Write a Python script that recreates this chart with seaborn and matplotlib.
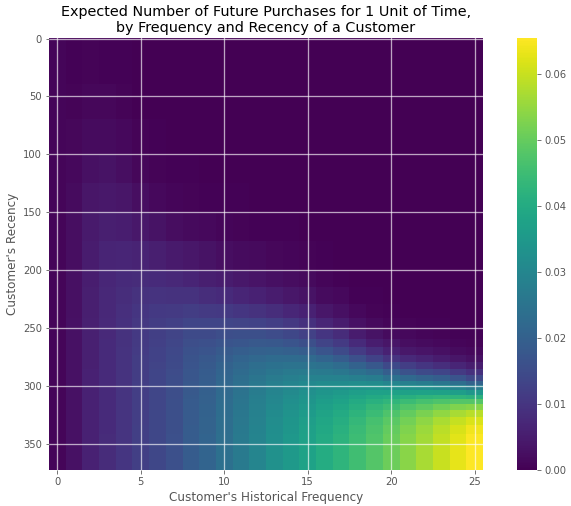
import numpy as np
import pandas as pd
import matplotlib
matplotlib.use("Agg")
import matplotlib.pyplot as plt
import seaborn as sns

# historical frequency (columns) and recency bins (rows)
frequency = list(range(26))
recency_edges = [0, 40, 70, 100, 125, 150, 175, 200, 215, 230, 242, 252, 260, 267,
                 274, 280, 286, 291, 296, 300, 304, 308, 312, 316, 321, 327, 334,
                 342, 352, 373]

# expected purchases in 1 unit of time (x 1000), one row per recency bin
purchases_x1000 = [
    [0.8, 0.4, 0.6, 0.5, 0.3, 0.1, 0.0, 0.0, 0.0, 0.0, 0.0, 0.0, 0.0, 0.0, 0.0, 0.0, 0.0, 0.0, 0.0, 0.0, 0.0, 0.0, 0.0, 0.0, 0.0, 0.0],
    [0.8, 0.7, 1.2, 1.1, 0.6, 0.2, 0.1, 0.1, 0.0, 0.0, 0.0, 0.0, 0.0, 0.0, 0.0, 0.0, 0.0, 0.0, 0.0, 0.0, 0.0, 0.0, 0.0, 0.0, 0.0, 0.0],
    [0.8, 1.1, 2.0, 2.0, 1.3, 0.6, 0.3, 0.2, 0.1, 0.1, 0.1, 0.0, 0.0, 0.0, 0.0, 0.0, 0.0, 0.0, 0.0, 0.0, 0.0, 0.0, 0.0, 0.0, 0.0, 0.0],
    [0.8, 1.5, 2.8, 3.2, 2.3, 1.2, 0.7, 0.4, 0.3, 0.2, 0.1, 0.1, 0.1, 0.0, 0.0, 0.0, 0.0, 0.0, 0.0, 0.0, 0.0, 0.0, 0.0, 0.0, 0.0, 0.0],
    [0.8, 1.9, 3.6, 4.3, 3.7, 2.3, 1.5, 1.0, 0.7, 0.5, 0.4, 0.3, 0.2, 0.1, 0.1, 0.1, 0.0, 0.0, 0.0, 0.0, 0.0, 0.0, 0.0, 0.0, 0.0, 0.0],
    [0.8, 2.3, 4.4, 5.5, 5.3, 4.1, 3.1, 2.2, 1.7, 1.3, 1.0, 0.7, 0.5, 0.4, 0.3, 0.2, 0.1, 0.0, 0.0, 0.0, 0.0, 0.0, 0.0, 0.0, 0.0, 0.0],
    [0.8, 2.5, 4.9, 6.4, 6.8, 6.3, 5.5, 4.5, 3.9, 3.1, 2.5, 2.0, 1.6, 1.2, 0.9, 0.6, 0.3, 0.1, 0.1, 0.0, 0.0, 0.0, 0.0, 0.0, 0.0, 0.0],
    [0.8, 2.7, 5.3, 6.9, 7.8, 8.1, 7.8, 7.2, 6.6, 5.6, 4.9, 4.1, 3.5, 2.7, 2.1, 1.6, 0.9, 0.5, 0.2, 0.1, 0.0, 0.0, 0.0, 0.0, 0.0, 0.0],
    [0.8, 2.8, 5.5, 7.2, 8.4, 9.2, 9.5, 9.3, 9.2, 8.3, 7.7, 6.8, 6.0, 5.0, 4.0, 3.2, 1.9, 1.3, 0.5, 0.3, 0.1, 0.0, 0.0, 0.0, 0.0, 0.0],
    [0.8, 2.8, 5.6, 7.4, 8.9, 10.1, 10.8, 11.1, 11.6, 11.1, 10.8, 10.2, 9.4, 8.3, 7.1, 5.9, 4.0, 2.8, 1.4, 0.7, 0.4, 0.2, 0.1, 0.1, 0.0, 0.0],
    [0.8, 2.9, 5.7, 7.5, 9.1, 10.6, 11.6, 12.3, 13.3, 13.3, 13.4, 13.2, 12.8, 11.8, 10.5, 9.1, 6.8, 5.1, 2.9, 1.7, 1.0, 0.6, 0.4, 0.3, 0.2, 0.1],
    [0.8, 2.9, 5.7, 7.6, 9.3, 10.9, 12.1, 13.2, 14.6, 14.8, 15.5, 15.7, 15.7, 15.0, 14.0, 12.6, 10.0, 8.0, 5.1, 3.3, 2.0, 1.3, 0.9, 0.7, 0.4, 0.3],
    [0.8, 2.9, 5.8, 7.7, 9.4, 11.2, 12.5, 13.7, 15.4, 16.0, 17.0, 17.6, 17.9, 17.7, 16.9, 15.7, 13.2, 11.1, 7.7, 5.3, 3.6, 2.4, 1.8, 1.3, 0.9, 0.6],
    [0.8, 2.9, 5.8, 7.7, 9.5, 11.3, 12.8, 14.2, 16.1, 16.9, 18.3, 19.3, 20.0, 20.2, 19.9, 19.0, 16.9, 14.7, 11.4, 8.5, 6.1, 4.3, 3.4, 2.6, 1.9, 1.3],
    [0.8, 2.9, 5.8, 7.8, 9.6, 11.5, 13.0, 14.5, 16.7, 17.7, 19.4, 20.8, 21.9, 22.6, 22.7, 22.3, 20.9, 18.9, 15.9, 12.9, 9.9, 7.6, 6.2, 5.0, 3.8, 2.8],
    [0.8, 2.9, 5.8, 7.8, 9.6, 11.6, 13.2, 14.8, 17.1, 18.3, 20.2, 21.9, 23.4, 24.5, 25.0, 25.0, 24.1, 22.8, 20.4, 17.7, 14.5, 11.8, 10.2, 8.5, 6.8, 5.2],
    [0.8, 3.0, 5.9, 7.8, 9.7, 11.7, 13.3, 15.0, 17.4, 18.8, 20.8, 22.7, 24.5, 25.8, 26.6, 27.0, 26.8, 25.9, 24.3, 22.6, 19.3, 16.5, 14.8, 13.4, 11.2, 9.0],
    [0.8, 3.0, 5.9, 7.8, 9.7, 11.7, 13.4, 15.1, 17.6, 19.1, 21.3, 23.4, 25.4, 27.0, 28.1, 29.0, 29.1, 28.8, 28.1, 27.2, 24.5, 22.2, 20.6, 19.3, 16.9, 14.3],
    [0.8, 3.0, 5.9, 7.8, 9.7, 11.8, 13.5, 15.3, 17.8, 19.4, 21.8, 24.0, 26.1, 28.0, 29.4, 30.5, 31.3, 31.4, 31.7, 31.2, 29.7, 28.2, 27.1, 25.6, 23.4, 20.6],
    [0.8, 3.0, 5.9, 7.9, 9.8, 11.8, 13.5, 15.4, 18.0, 19.6, 22.1, 24.4, 26.7, 28.7, 30.3, 31.6, 32.7, 33.4, 34.1, 34.3, 33.7, 33.0, 32.6, 31.5, 29.8, 27.4],
    [0.8, 3.0, 5.9, 7.9, 9.8, 11.9, 13.6, 15.4, 18.1, 19.8, 22.3, 24.8, 27.2, 29.4, 31.1, 32.6, 34.1, 35.0, 36.4, 37.2, 37.3, 37.5, 37.7, 37.3, 36.5, 34.5],
    [0.8, 3.0, 5.9, 7.9, 9.8, 11.9, 13.7, 15.5, 18.2, 20.0, 22.6, 25.1, 27.6, 29.9, 31.8, 33.5, 35.2, 36.4, 38.2, 39.5, 40.3, 41.3, 42.2, 42.7, 42.6, 41.7],
    [0.8, 3.0, 5.9, 7.9, 9.8, 11.9, 13.7, 15.6, 18.4, 20.1, 22.8, 25.4, 27.9, 30.4, 32.3, 34.2, 36.1, 37.6, 39.7, 41.5, 42.9, 44.6, 46.0, 47.2, 47.9, 47.9],
    [0.8, 3.0, 5.9, 7.9, 9.9, 12.0, 13.7, 15.6, 18.4, 20.2, 23.0, 25.7, 28.3, 30.9, 32.9, 34.9, 37.0, 38.8, 41.1, 43.2, 45.1, 47.3, 49.3, 51.1, 52.7, 53.6],
    [0.8, 3.0, 5.9, 7.9, 9.9, 12.0, 13.8, 15.7, 18.5, 20.4, 23.2, 25.9, 28.6, 31.3, 33.5, 35.6, 37.9, 39.8, 42.4, 44.7, 47.1, 49.7, 52.2, 54.5, 56.8, 58.4],
    [0.8, 3.0, 6.0, 7.9, 9.9, 12.0, 13.8, 15.8, 18.6, 20.5, 23.3, 26.2, 28.9, 31.7, 34.0, 36.3, 38.6, 40.8, 43.5, 46.0, 48.7, 51.6, 54.3, 57.0, 59.7, 61.8],
    [0.8, 3.0, 6.0, 7.9, 9.9, 12.1, 13.9, 15.8, 18.7, 20.6, 23.5, 26.4, 29.2, 32.1, 34.4, 36.8, 39.2, 41.5, 44.3, 46.8, 49.7, 52.8, 55.6, 58.6, 61.4, 63.9],
    [0.8, 3.0, 6.0, 8.0, 9.9, 12.1, 13.9, 15.9, 18.8, 20.7, 23.7, 26.6, 29.5, 32.4, 34.8, 37.2, 39.7, 42.1, 44.8, 47.4, 50.4, 53.5, 56.4, 59.4, 62.4, 64.9],
    [0.8, 3.0, 6.0, 8.0, 10.0, 12.1, 13.9, 15.9, 18.9, 20.9, 23.8, 26.8, 29.7, 32.7, 35.2, 37.6, 40.2, 42.6, 45.3, 47.8, 50.8, 53.9, 56.9, 59.9, 62.9, 65.4],
]

x_ticks = [0, 5, 10, 15, 20, 25]
y_ticks = [0, 50, 100, 150, 200, 250, 300, 350]

# one heatmap row per recency value, each bin row spread over its span
spans = np.diff(recency_edges)
grid = np.repeat(np.array(purchases_x1000) / 1000.0, spans, axis=0)
df = pd.DataFrame(grid, index=np.arange(grid.shape[0]), columns=frequency)

plt.style.use('ggplot')
fig = plt.figure(figsize=(571 / 72, 506 / 72), dpi=72)
ax = fig.add_axes([49 / 571, 36 / 506, 434 / 571, 432 / 506])
cax = fig.add_axes([517 / 571, 36 / 506, 20 / 571, 432 / 506])

sns.heatmap(df, cmap='viridis', vmin=0, ax=ax, cbar_ax=cax,
            xticklabels=False, yticklabels=False)

ax.set_xticks(np.array(x_ticks) + 0.5)
ax.set_xticklabels(x_ticks)
ax.set_yticks(np.array(y_ticks) + 0.5)
ax.set_yticklabels(y_ticks, rotation=0)
ax.tick_params(length=3.5, color='#555555', labelcolor='#555555')
ax.grid(True, color='white', linewidth=1.3, alpha=0.65)
ax.set_axisbelow(False)

ax.set_xlabel("Customer's Historical Frequency")
ax.set_ylabel("Customer's Recency")
ax.set_title('Expected Number of Future Purchases for 1 Unit of Time,\nby Frequency and Recency of a Customer')

cax.tick_params(length=3.5, color='#555555', labelcolor='#555555')
cax.yaxis.set_major_formatter(matplotlib.ticker.FormatStrFormatter('%.2f'))

fig.savefig('out.png', dpi=72)
